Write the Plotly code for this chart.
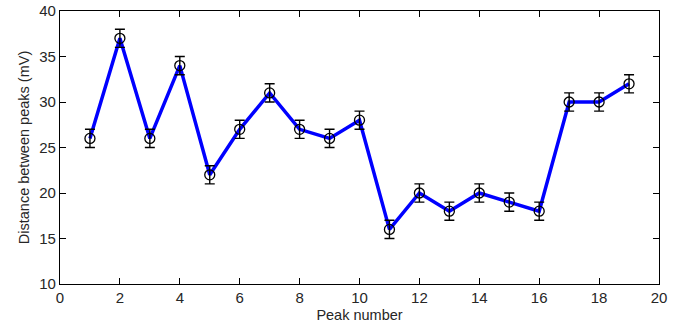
import plotly.graph_objects as go

peaks = list(range(1, 20))
distance = [26, 37, 26, 34, 22, 27, 31, 27, 26, 28, 16, 20, 18, 20, 19, 18, 30, 30, 32]
err = [1] * 19
x_ticks = [0, 2, 4, 6, 8, 10, 12, 14, 16, 18, 20]
y_ticks = [10, 15, 20, 25, 30, 35, 40]

font = "Liberation Sans, Arial, Helvetica, sans-serif"

fig = go.Figure()
fig.add_trace(go.Scatter(x=peaks, y=distance, mode="lines",
                         line=dict(color="#0000ff", width=3.5), hoverinfo="skip"))
fig.add_trace(go.Scatter(x=peaks, y=distance, mode="markers",
                         marker=dict(symbol="circle-open", size=10, color="black",
                                     line=dict(width=1.3, color="black")),
                         error_y=dict(type="data", array=err, visible=True,
                                      color="black", thickness=1.4, width=5)))

axis_common = dict(showline=True, linecolor="black", linewidth=1.2, mirror="ticks",
                   ticks="inside", ticklen=6, tickcolor="black", tickwidth=1,
                   showgrid=False, zeroline=False, automargin=False,
                   tickfont=dict(family=font, size=15, color="#262626"))

fig.update_layout(
    width=685, height=329,
    margin=dict(l=60, r=26, t=11, b=45),
    paper_bgcolor="white", plot_bgcolor="white",
    showlegend=False,
    xaxis=dict(range=[0, 20], tickvals=x_ticks, **axis_common,
               title=dict(text="Peak number", font=dict(family=font, size=14.5, color="#262626"),
                          standoff=4)),
    yaxis=dict(range=[10, 40], tickvals=y_ticks, **axis_common,
               title=dict(text="Distance between peaks (mV)",
                          font=dict(family=font, size=14.5, color="#262626"), standoff=6)),
)

fig.write_html("out.html")
